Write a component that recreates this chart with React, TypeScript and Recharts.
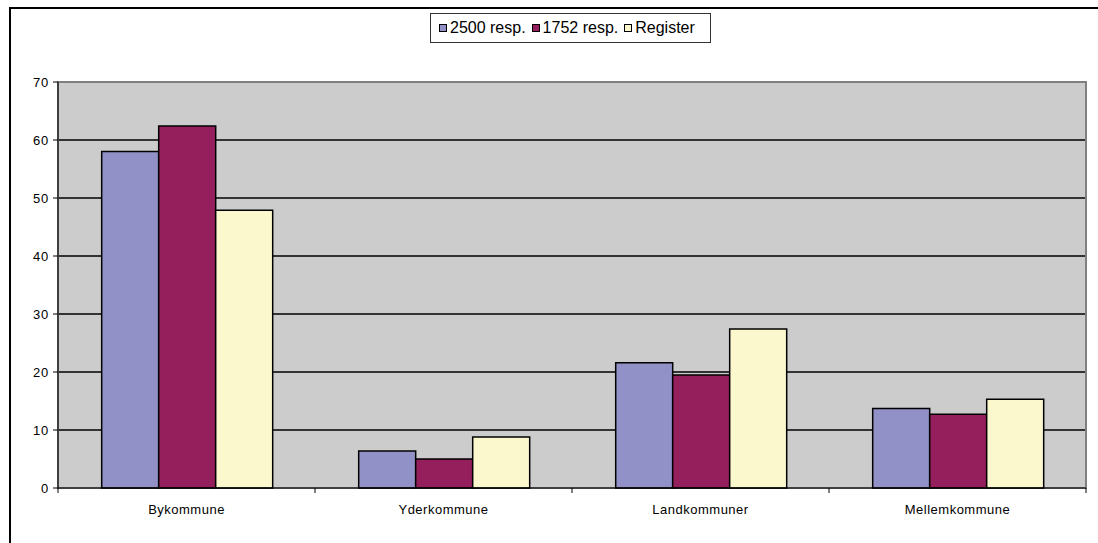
import React from "react";
import {
  BarChart,
  Bar,
  XAxis,
  YAxis,
  CartesianGrid,
  ReferenceArea,
} from "recharts";

const categories = ["Bykommune", "Yderkommune", "Landkommuner", "Mellemkommune"];
const resp2500 = [58.0, 6.4, 21.6, 13.7];
const resp1752 = [62.4, 5.0, 19.5, 12.7];
const register = [47.9, 8.8, 27.4, 15.3];
const seriesNames = ["2500 resp.", "1752 resp.", "Register"];
const seriesColors = ["#9191C7", "#941F5C", "#FBF8CE"];
const yTicks = [0, 10, 20, 30, 40, 50, 60, 70];
const gridValues = [10, 20, 30, 40, 50, 60];

const data = categories.map((c, i) => ({
  name: c,
  a: resp2500[i],
  b: resp1752[i],
  c: register[i],
}));

const FONT = "Arial, 'Liberation Sans', sans-serif";

const LegendBox = () => (
  <div
    style={{
      position: "absolute",
      left: 430,
      top: 13,
      width: 281,
      height: 30,
      border: "1px solid #333",
      display: "flex",
      flexWrap: "nowrap",
      whiteSpace: "nowrap",
      alignItems: "center",
      paddingLeft: 8,
      fontFamily: FONT,
      fontSize: 16,
      letterSpacing: 0,
      color: "#000",
      boxSizing: "border-box",
      background: "#fff",
      overflow: "hidden",
    }}
  >
    {seriesNames.map((n, i) => (
      <div key={n} style={{ display: "flex", alignItems: "center", marginRight: 6, flexShrink: 0 }}>
        <span
          style={{
            display: "inline-block",
            width: 6,
            height: 6,
            border: "1px solid #000",
            background: seriesColors[i],
            marginRight: 3,
          }}
        />
        <span>{n}</span>
      </div>
    ))}
  </div>
);

const CatTick = (props: any) => {
  const { x, y, payload, index, visibleTicksCount } = props;
  const off = payload && payload.offset ? payload.offset : 0;
  const left = x - off;
  const right = x + off;
  const isLast = index === (visibleTicksCount ?? 4) - 1;
  return (
    <g>
      <line x1={left} y1={y} x2={left} y2={y + 5} stroke="#000" strokeWidth={1} />
      {isLast && <line x1={right} y1={y} x2={right} y2={y + 5} stroke="#000" strokeWidth={1} />}
      <text
        x={x}
        y={y + 17}
        dy="0.71em"
        textAnchor="middle"
        fill="#000"
        fontSize={13}
        letterSpacing={0.5}
        fontFamily={FONT}
      >
        {payload.value}
      </text>
    </g>
  );
};

export default function App() {
  return (
    <div style={{ position: "absolute", left: 0, top: 0, width: 1098, height: 543, background: "#fff" }}>
      <div
        style={{
          position: "absolute",
          left: 9,
          top: 7,
          width: 1089,
          height: 536,
          borderTop: "2px solid #000",
          borderLeft: "2px solid #000",
          boxSizing: "border-box",
        }}
      />
      <div style={{ position: "absolute", left: 0, top: 0 }}>
        <BarChart
          width={1098}
          height={543}
          data={data}
          margin={{ top: 82, right: 12, left: 0, bottom: 0 }}
          barCategoryGap="17%"
          barGap={0}
        >
          <CartesianGrid
            vertical={false}
            horizontalValues={gridValues}
            stroke="#000"
            strokeWidth={1.4}
            fill="#CCCCCC"
            fillOpacity={1}
          />
          <ReferenceArea
            y1={0}
            y2={70}
            fill="none"
            stroke="#808080"
            strokeWidth={2}
          />
          <XAxis
            dataKey="name"
            tickLine={false}
            tickSize={0}
            tickMargin={0}
            axisLine={{ stroke: "#000" }}
            height={55}
            interval={0}
            tick={<CatTick />}
          />
          <YAxis
            domain={[0, 70]}
            ticks={yTicks}
            width={58}
            tickSize={5}
            tickMargin={4}
            tickLine={{ stroke: "#000" }}
            axisLine={{ stroke: "#000" }}
            tick={{ fill: "#000", fontSize: 13, fontFamily: FONT, letterSpacing: 0.8 }}
            interval={0}
          />
          <Bar dataKey="a" name={seriesNames[0]} fill={seriesColors[0]} stroke="#000" strokeWidth={1.5} isAnimationActive={false} />
          <Bar dataKey="b" name={seriesNames[1]} fill={seriesColors[1]} stroke="#000" strokeWidth={1.5} isAnimationActive={false} />
          <Bar dataKey="c" name={seriesNames[2]} fill={seriesColors[2]} stroke="#000" strokeWidth={1.5} isAnimationActive={false} />
        </BarChart>
      </div>
      <LegendBox />
    </div>
  );
}
